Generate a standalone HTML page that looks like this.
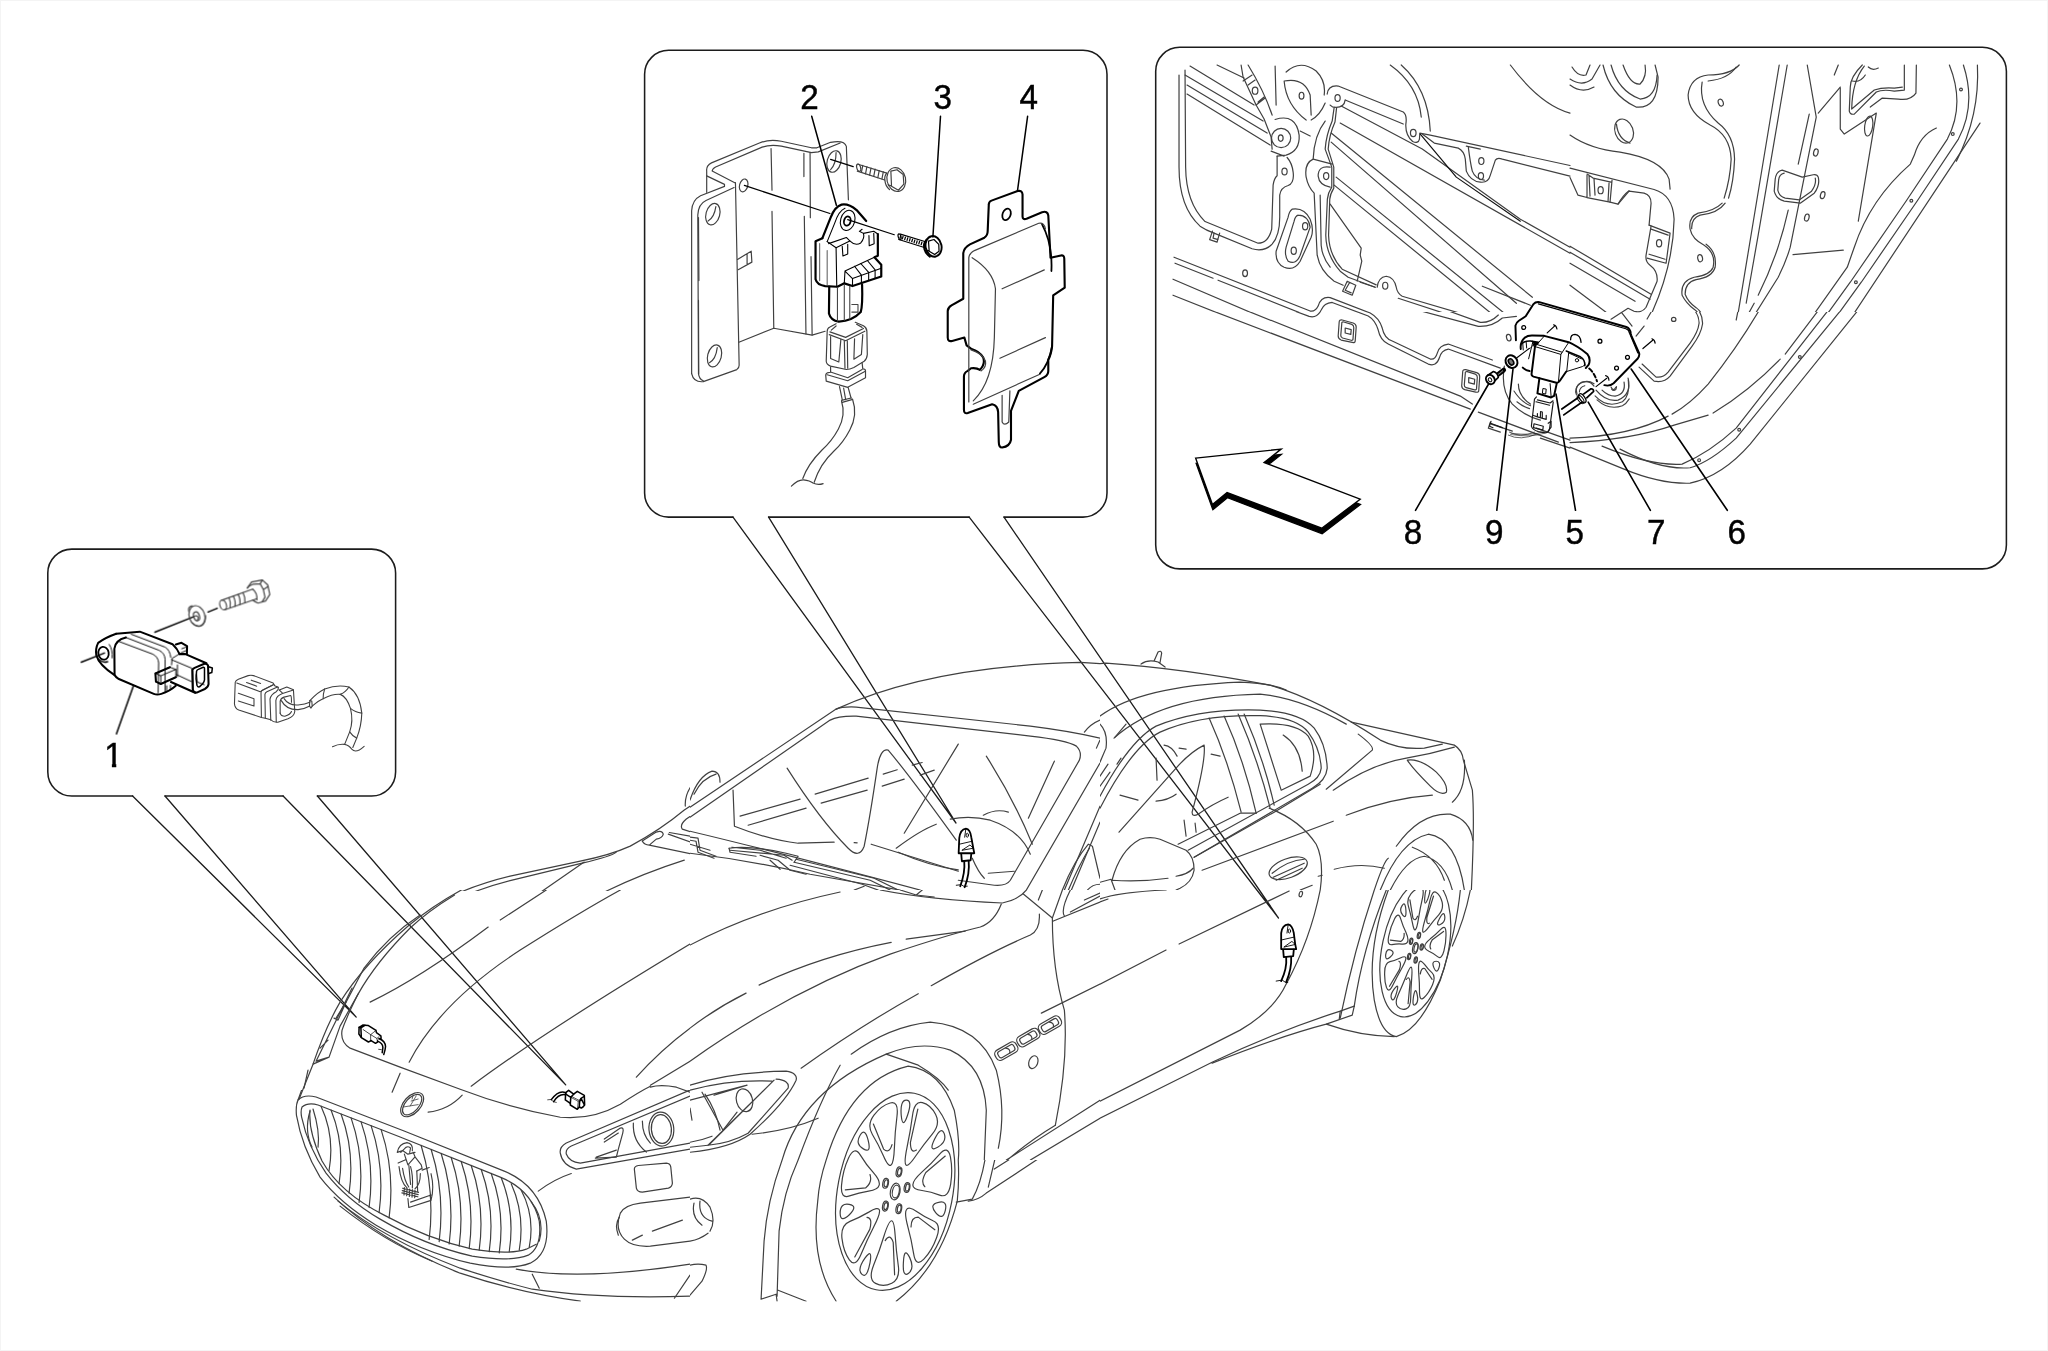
<!DOCTYPE html>
<html><head><meta charset="utf-8"><title>Diagram</title>
<style>
html,body{margin:0;padding:0;background:#fff;overflow:hidden}
svg{display:block}
.k{fill:none;stroke:#000;stroke-linecap:round;stroke-linejoin:round}
.g{fill:none;stroke:#404040;stroke-linecap:round;stroke-linejoin:round}
.c{fill:none;stroke:#404040;stroke-linecap:round;stroke-linejoin:round}
.l{fill:none;stroke:#999;stroke-linecap:round;stroke-linejoin:round}
text{font-family:"Liberation Sans",sans-serif;fill:#000}
</style></head><body>
<svg width="2048" height="1351" viewBox="0 0 2048 1351">
<rect width="2048" height="1351" fill="#fff"/>
<!-- callout frames and tails -->
<rect x="0.5" y="0.5" width="2047" height="1350" fill="none" stroke="#f4f4f4"/>
<g class="k" stroke-width="1.55" style="stroke:#1c1c1c">
<!-- box 1 -->
<path d="M132.6 796 H71.8 A24 24 0 0 1 47.8 772 V573.1 A24 24 0 0 1 71.8 549.1 H371.6 A24 24 0 0 1 395.6 573.1 V772 A24 24 0 0 1 371.6 796 H317.4"/>
<path d="M165 796 H283.1"/>
<!-- box 2 -->
<path d="M733 517.1 H668.6 A24 24 0 0 1 644.6 493.1 V74.3 A24 24 0 0 1 668.6 50.3 H1083 A24 24 0 0 1 1107 74.3 V493.1 A24 24 0 0 1 1083 517.1 H1004"/>
<path d="M768.6 517.1 H969.2"/>
<!-- box 3 -->
<rect x="1155.7" y="47.3" width="850.7" height="521.6" rx="24" ry="24"/>
</g>
<g class="k" stroke-width="1.3" style="stroke:#1c1c1c">
<path d="M132.6 796 L356.2 1017.1 L165 796"/>
<path d="M283.1 796 L565.7 1084.9 L317.4 796"/>
<path d="M733 517.1 L956 823 L768.6 517.1"/>
<path d="M969.2 517.1 L1278.5 918 L1004 517.1"/>
</g>
<clipPath id="one"><path d="M-20 -40 H20 V-3.6 H2.9 V2 H-1.7 V-3.6 H-20 Z"/></clipPath>
<g font-size="35" opacity="0.999" text-anchor="middle">
<text transform="translate(113.5,766.7) scale(0.95,1)" stroke="#000" stroke-width="0.45" clip-path="url(#one)">1</text>
<text transform="translate(809.4,108.8) scale(0.95,1)" stroke="#000" stroke-width="0.45">2</text>
<text transform="translate(942.7,108.8) scale(0.95,1)" stroke="#000" stroke-width="0.45">3</text>
<text transform="translate(1028.8,108.8) scale(0.95,1)" stroke="#000" stroke-width="0.45">4</text>
<text transform="translate(1413.0,543.6) scale(0.95,1)" stroke="#000" stroke-width="0.45">8</text>
<text transform="translate(1494.2,543.6) scale(0.95,1)" stroke="#000" stroke-width="0.45">9</text>
<text transform="translate(1574.8,543.6) scale(0.95,1)" stroke="#000" stroke-width="0.45">5</text>
<text transform="translate(1656.2,543.6) scale(0.95,1)" stroke="#000" stroke-width="0.45">7</text>
<text transform="translate(1736.7,543.6) scale(0.95,1)" stroke="#000" stroke-width="0.45">6</text>
</g>

<!-- box1: sensor 1, washer, bolt (zoom 9.309 of [70,580,290,725]) -->
<g transform="translate(70,580) scale(0.107422)">
<g class="k" stroke-width="19">
<path d="M430 500 L650 481 L955 598 Q1000 640 1020 690"/>
<path d="M430 500 Q330 535 262 585 Q235 640 245 700 Q270 790 415 885"/>
<path d="M520 535 Q420 560 413 640 L415 885 Q425 905 455 922 L780 1060 Q810 1072 850 1060 Q930 1035 985 985"/>
<path d="M800 946 L795 870 L930 812 M800 946 L845 968 L985 905"/>
<path d="M985 600 L1038 585 L1090 615 L1088 690"/>
<path d="M1020 690 L1075 690 L1270 775"/>
<path d="M940 950 L1165 1050"/>
<path d="M1140 835 Q1145 825 1160 818 L1245 782 Q1270 775 1285 795 L1290 970 Q1285 1000 1255 1015 L1180 1048 Q1150 1052 1143 1020 Z"/>
<path d="M1178 850 Q1180 838 1195 832 L1240 812 Q1252 810 1252 825 L1252 930 Q1250 950 1235 965 L1205 995 Q1190 1000 1182 980 Q1168 920 1178 850 Z" stroke-width="14"/>
<path d="M1290 808 L1325 820 L1320 862 L1292 870" stroke-width="14"/>
<ellipse cx="312" cy="682" rx="48" ry="60" stroke-width="17" transform="rotate(-10 312 682)"/>
<path d="M270 740 Q300 775 350 760" stroke-width="14"/>
</g>
<g class="k" stroke-width="9">
<path d="M455 572 L770 690 Q820 715 825 770 L820 1050"/>
<path d="M520 535 L830 655 Q880 680 885 735 L885 1035"/>
<path d="M570 505 L885 625 Q930 650 938 720"/>
<path d="M795 870 L845 892 L845 968 M845 892 L985 832"/>
<path d="M930 812 L985 832 L985 905"/>
<path d="M945 742 L1135 822 L1145 1030"/>
<path d="M1000 790 L1000 900 M990 880 L1130 945"/>
<path d="M1015 690 L950 730 L945 790"/>
<path d="M1040 640 L1080 625 M1030 680 L1085 655"/>
<path d="M1185 950 L1250 975 M1185 950 L1175 880"/>
<path d="M935 980 L935 1010 M900 985 L900 1030"/>
<path d="M365 600 Q400 650 392 725"/>
</g>
<g class="k" stroke-width="14">
<path d="M105 765 L320 680"/>
<path d="M790 485 L1155 340"/>
<path d="M1285 298 L1370 263"/>
<path d="M590 985 L432 1432"/>
</g>
<g class="g" stroke-width="11">
<ellipse cx="1182" cy="335" rx="72" ry="98" transform="rotate(-18 1182 335)"/>
<path d="M1108 300 Q1090 250 1135 240 M1140 400 Q1180 445 1230 420 Q1265 390 1262 330"/>
<ellipse cx="1178" cy="338" rx="27" ry="42" transform="rotate(-18 1178 338)"/>
<path d="M1165 335 Q1185 330 1195 350 L1185 375"/>
<ellipse cx="1425" cy="232" rx="30" ry="47" transform="rotate(-18 1425 232)"/>
<path d="M1412 188 L1700 85 M1440 278 L1735 175"/>
<path d="M1480 165 Q1500 210 1490 255 M1520 150 Q1545 200 1535 245 M1565 135 Q1590 180 1580 230 M1610 118 Q1635 165 1628 212"/>
<path d="M1700 85 Q1745 120 1740 185"/>
<path d="M1650 75 L1690 18 L1790 0 L1840 45 L1860 135 L1820 195 L1750 215 Q1715 200 1700 185"/>
<path d="M1650 75 Q1660 55 1700 40 L1770 35 L1800 90 L1815 160 L1790 200 M1800 90 L1845 60 M1770 35 L1790 0"/>
</g>
</g>
<!-- plug + harness (zoom 12.8 of [220,660,380,765]) -->
<g transform="translate(220,660) scale(0.078125)">
<g class="g" stroke-width="14">
<path d="M745 350 L700 330 L680 295 L430 200 Q395 190 360 200 L235 245 Q200 260 195 285 L185 560 Q190 620 240 640 L530 735 L580 745 L650 765 Q680 800 740 797 L870 752 Q950 722 957 660 L940 382 L855 345 L760 385"/>
<path d="M215 295 L515 405 L675 320"/>
<path d="M530 735 L525 420 Q525 395 545 385 L690 315"/>
<path d="M580 745 L575 440 Q578 415 600 405 L735 345"/>
<path d="M650 770 L640 500 Q650 440 720 405 L745 375 L745 350"/>
<path d="M720 795 L715 520 Q720 460 800 430 L940 385"/>
<path d="M760 385 L800 425"/>
<path d="M770 680 L770 530 Q775 490 820 475 L905 455 Q915 460 915 540"/>
<path d="M770 680 Q780 720 830 720 Q900 700 915 660"/>
<path d="M400 258 L520 300 M340 288 L470 335 M235 425 L435 495 L435 590 L235 525"/>
<path d="M785 520 Q850 640 1000 635 Q1090 625 1150 590"/>
<path d="M820 495 Q880 585 1000 575 Q1090 565 1150 540"/>
<path d="M1150 520 L1145 590 L1165 615 L1180 590 L1175 525 Z"/>
<path d="M1150 520 Q1250 410 1340 370 Q1500 310 1650 345 Q1790 440 1815 680 Q1810 850 1750 1000 L1700 1120"/>
<path d="M1180 590 Q1260 520 1320 495 Q1450 430 1540 440 Q1620 470 1670 620 Q1710 780 1660 920 L1595 1080"/>
<path d="M1340 370 Q1320 430 1320 495 M1650 345 Q1610 410 1540 440 M1670 620 Q1730 670 1815 680 M1660 920 Q1700 980 1750 1000"/>
<path d="M1440 1110 Q1520 1070 1595 1080 Q1650 1090 1690 1145 Q1740 1200 1845 1105"/>
</g>
</g>

<!-- box2 left: bracket + sensor 2 (zoom 7.304 of [680,130]) -->
<g transform="translate(680,130) scale(0.136913)">
<g class="g" stroke-width="8.6">
<path d="M195 455 L195 300 Q190 260 230 240 L580 95 Q650 65 740 82 L960 130 L1000 130 L1100 90 Q1200 70 1215 120 L1230 510"/>
<path d="M400 385 L235 300 Q235 285 260 270 L600 125 Q660 105 740 118 L960 165 L1010 160 L1170 95"/>
<path d="M195 335 L325 397 L325 412"/>
<path d="M85 1779 L85 590 Q90 510 150 480 L325 412"/>
<path d="M135 1779 L130 620 Q135 540 190 515 L395 420"/>
<path d="M405 385 L432 1719 Q432 1740 415 1750 L170 1838 Q100 1845 85 1779"/>
<path d="M135 1779 Q140 1820 170 1832"/>
<ellipse cx="240" cy="615" rx="50" ry="80" transform="rotate(15 240 615)"/>
<path d="M205 665 Q250 640 262 560"/>
<ellipse cx="252" cy="1650" rx="50" ry="82" transform="rotate(15 252 1650)"/>
<path d="M215 1700 Q262 1675 272 1590"/>
<ellipse cx="465" cy="405" rx="30" ry="48" transform="rotate(15 465 405)"/>
<ellipse cx="1125" cy="230" rx="50" ry="80" transform="rotate(15 1125 230)"/>
<path d="M1100 290 Q1140 250 1140 165"/>
<path d="M665 135 L672 440 M672 595 L685 1448 M905 170 L905 340 M908 630 L920 1490 M950 165 L952 640 M957 925 L965 1497"/>
<path d="M135 640 L138 1100 M135 1245 L137 1779"/>
<path d="M430 1550 L685 1448 L965 1498 L1060 1470"/>
<path d="M420 945 L520 885 L525 965 L425 1020 M490 905 L490 985"/>
<!-- upper bolt -->
<path d="M1300 250 L1510 315 M1295 300 L1495 365"/>
<ellipse cx="1305" cy="275" rx="14" ry="27" transform="rotate(-15 1305 275)"/>
<path d="M1335 258 L1325 310 M1365 268 L1355 320 M1395 278 L1385 330 M1425 286 L1415 338 M1455 296 L1445 348 M1485 305 L1475 357"/>
<ellipse cx="1580" cy="362" rx="68" ry="88" transform="rotate(-12 1580 362)"/>
<path d="M1510 315 Q1490 340 1497 370 Q1500 410 1530 435"/>
<path d="M1540 300 L1585 290 L1630 325 L1635 395 L1595 440 L1545 410 Z M1545 410 L1520 400"/>
</g>
<g class="k" stroke-width="9">
<path d="M1100 215 L1265 268"/>
<path d="M470 405 L1095 610"/>
<path d="M1225 655 L1565 765"/>
</g>
<!-- sensor 2 -->
<g class="k" stroke-width="16">
<path d="M1040 790 L1100 640 Q1130 560 1180 545 Q1230 535 1290 585 L1360 665"/>
<path d="M1040 790 L990 812 L990 1090 Q1000 1130 1060 1140 L1150 1145 L1200 1120 L1260 1140 L1470 1070 L1470 985 L1420 930 L1445 918 L1445 760"/>
<path d="M1090 1145 L1088 1340 Q1100 1390 1160 1400 Q1260 1395 1320 1330 Q1335 1280 1330 1130"/>
<ellipse cx="1222" cy="665" rx="24" ry="34" transform="rotate(15 1222 665)" stroke-width="13"/>
</g>
<g class="k" stroke-width="8">
<ellipse cx="1225" cy="660" rx="52" ry="75" transform="rotate(15 1225 660)"/>
<path d="M1075 815 L1130 680 Q1160 590 1205 572"/>
<path d="M1075 815 L1140 860 L1240 810 L1215 785 L1085 830"/>
<path d="M1240 810 Q1280 850 1320 825 Q1350 790 1340 755 L1310 740 L1330 725"/>
<path d="M1340 755 L1415 740 L1445 760"/>
<path d="M1140 860 L1145 1145"/>
<path d="M1185 850 L1190 920 L1225 905 L1225 835"/>
<path d="M1380 770 L1382 845 L1418 830 L1415 755"/>
<path d="M1205 1030 L1420 930 M1205 1030 L1260 1085 L1470 1010 M1260 1085 L1260 1140 M1205 1030 L1200 1120"/>
<path d="M1275 995 L1325 1060 L1325 1115 M1320 975 L1378 1040 L1378 1098 M1370 955 L1425 1022 L1425 1082"/>
<path d="M1020 830 L1020 1100 M1075 880 L1075 1130" stroke="#666"/>
<path d="M1200 1130 L1200 1390 M1240 1140 L1240 1380 M1150 1150 L1150 1395" stroke="#444"/>
<path d="M1255 1275 L1300 1275 L1300 1330 L1255 1330" stroke="#444"/>
</g>
<!-- lower connector (gray); y offset 949.5 -->
<g class="g" stroke-width="8.6" transform="translate(0,949.5)">
<path d="M1140 465 L1095 490 Q1075 500 1075 520 L1068 740 Q1070 765 1100 775 L1215 800 Q1240 800 1270 785 L1345 740 Q1365 725 1368 690 L1365 520 Q1365 495 1340 480 L1280 455"/>
<path d="M1095 525 L1210 565 L1340 500 M1105 512 L1140 482 M1290 470 L1330 492"/>
<path d="M1090 545 L1210 590 L1350 520"/>
<path d="M1100 560 L1100 720 L1160 745 L1175 580 M1275 575 L1270 725 L1325 690 L1335 545"/>
<path d="M1200 590 L1205 790 M1222 590 L1225 790"/>
<path d="M1100 780 L1100 820 L1075 825 Q1062 830 1065 850 L1068 885 L1225 930 L1355 860 L1355 810 Q1355 795 1335 795 L1330 750"/>
<path d="M1075 838 L1225 882 L1350 815 M1105 820 L1225 860 L1330 800"/>
<path d="M1165 925 L1185 1020 M1195 935 L1210 1020 M1228 930 L1250 1010"/>
<path d="M1180 1025 L1250 1008 M1185 1040 L1255 1020"/>
</g>
</g>
<!-- cable in global coords -->
<g class="g" stroke-width="1.2">
<path d="M841.5 401 Q846 415 838.4 429 Q832 441 822 450 Q808 464 802.8 478.5"/>
<path d="M852.5 399 Q858 415 849.8 430 Q843 443 834 451 Q820 464 814.2 482.3"/>
<path d="M791.4 486.1 Q798 479.5 803.5 479.8 Q810 480.5 813 483 Q818 485.5 823.1 483.6"/>
</g>
<!-- small bolt 3 (zoom 7.304 of [680,130]) -->
<g transform="translate(680,130) scale(0.136913)">
<g class="k" stroke-width="9">
<path d="M1610 760 L1800 818 M1598 800 L1785 858"/>
<path d="M1605 780 L1795 838" stroke-width="26" stroke="#000" stroke-dasharray="9 9" stroke-linecap="butt"/>
<ellipse cx="1604" cy="780" rx="10" ry="22" transform="rotate(-15 1604 780)"/>
<ellipse cx="1852" cy="850" rx="58" ry="76" transform="rotate(-12 1852 850)" stroke-width="14"/>
<path d="M1800 800 Q1775 830 1785 870 Q1795 905 1825 925" stroke-width="14"/>
<path d="M1815 812 L1855 800 L1890 835 L1892 885 L1860 910 L1820 885 Z M1820 885 L1800 878"/>
</g>
</g>
<!-- cover 4 (zoom 4.5045 of [900,160]) -->
<g transform="translate(900,160) scale(0.222)">
<path class="k" stroke-width="9.5" d="M400 200 Q400 188 412 183 L530 140 Q550 135 552 155 L552 255 Q552 270 570 265 L640 235 Q665 228 668 250 L678 440 L725 430 Q740 428 740 445 L742 575 L690 610 L685 840 Q680 880 668 900 L668 950 Q668 968 650 978 L535 1040 L500 1130 L500 1260 Q495 1290 460 1295 Q445 1295 445 1270 L442 1135 Q440 1105 415 1100 L305 1140 Q288 1145 288 1125 L288 975 Q288 958 305 950 L320 938 Q345 935 360 945 Q385 920 375 890 Q360 862 320 850 L300 835 L290 800 L235 815 Q215 820 215 800 L215 680 Q215 665 232 655 L285 625 L285 420 Q288 395 315 380 L380 350 Q395 340 395 320 Z"/>
<ellipse class="k" stroke-width="8" cx="480" cy="245" rx="18" ry="27" transform="rotate(20 480 245)"/>
<g class="k" stroke-width="8">
<path d="M640 290 Q688 380 682 500 M685 840 Q670 920 630 962"/>
</g>
<g class="g" stroke-width="5.4">
<path d="M310 1090 L310 440 Q312 420 335 408 L625 285 Q650 280 655 310"/>
<path d="M330 1100 L630 965"/>
<path d="M325 440 Q420 500 430 580 L425 800 Q420 1000 330 1085"/>
<path d="M460 580 L650 495 M450 893 L655 800"/>
<path d="M460 1060 L460 1180 Q470 1200 490 1180 L495 1040"/>
<path d="M320 855 Q370 870 385 905 Q390 935 365 950"/>
</g>
</g>
<!-- leaders -->
<g class="k" stroke-width="1.5">
<path d="M811.7 116.3 L836.4 205.2"/>
<path d="M940.5 116.3 L932.9 237"/>
<path d="M1027.6 116.3 L1017.4 191.3"/>
</g>

<!-- box3 clip -->
<clipPath id="c3"><rect x="1170" y="64" width="822" height="495"/></clipPath>
<clipPath id="c3a"><rect x="1170" y="64" width="822" height="248"/></clipPath>
<clipPath id="c3b"><rect x="1170" y="312" width="822" height="247"/></clipPath>
<g clip-path="url(#c3)">
<!-- B1 zoom 4.995 of [1160,55] -->
<g clip-path="url(#c3a)"><g transform="translate(1160,55) scale(0.2002)" class="g" stroke-width="6">
<path d="M95 100 L95 560 Q95 760 200 855 Q230 875 270 890 L460 968 Q520 985 560 945 Q600 900 598 800 L598 700 Q603 662 640 652 Q672 640 665 585 Q660 540 635 512"/>
<path d="M125 75 L128 560 Q130 740 225 832 L490 940 Q540 940 558 870 L565 650 Q570 615 585 603 L585 505"/>
<path d="M262 880 L248 922 L285 935 L298 890 M270 890 L265 915 L290 922"/>
<ellipse cx="622" cy="582" rx="13" ry="17"/>
<path d="M150 55 L470 250 M125 100 L515 330 M135 150 L535 390 M135 195 L550 450 M285 50 L420 115"/>
<path d="M405 50 L415 110 L480 250 L520 320 L555 410 L560 470"/>
<path d="M440 50 Q520 180 560 300"/>
<path d="M415 130 L460 100 M480 250 L525 215 M440 150 L475 125 M490 235 L520 210"/>
<ellipse cx="475" cy="178" rx="14" ry="18"/>
<circle cx="605" cy="415" r="48"/>
<path d="M575 322 Q680 290 695 400 Q700 480 630 500 L585 505 M555 480 L620 505"/>
<ellipse cx="603" cy="415" rx="12" ry="16"/>
<path d="M575 55 L580 250"/>
<path d="M630 85 Q700 20 780 80 Q830 130 820 200"/>
<path d="M620 130 Q720 110 750 200 L755 300 M620 130 Q630 250 730 325 M700 380 L750 405 M755 325 Q800 300 825 240"/>
<ellipse cx="707" cy="203" rx="12" ry="17"/>
<path d="M835 195 Q840 150 890 155 L1215 285 Q1235 300 1228 345 Q1225 400 1262 432 Q1290 445 1296 420 L1298 390 L1350 400 L2048 552"/>
<path d="M925 225 Q920 260 880 262 Q860 262 850 250"/>
<path d="M870 262 L860 330 Q830 400 825 470 L858 560 L858 660 Q838 690 836 720 L828 900 Q830 1000 900 1080 L940 1110 L1075 1160"/>
<path d="M882 264 L874 335 Q845 400 840 470 L868 560 L868 665 Q850 695 848 720 L842 900 Q845 1000 910 1070 L1080 1148"/>
<path d="M825 330 Q770 400 765 520 Q720 540 730 610 Q740 660 770 690 L785 1000 Q800 1080 870 1130 L915 1150"/>
<path d="M800 700 L805 950 Q810 1010 850 1060"/>
<path d="M850 560 Q790 550 790 605 Q795 650 850 660 M765 520 L860 545"/>
<ellipse cx="830" cy="605" rx="13" ry="17"/>
<ellipse cx="887" cy="215" rx="13" ry="17"/>
<path d="M925 225 L1215 345"/>
<path d="M905 255 L1310 470 L1800 820 L2048 960"/>
<path d="M1300 395 L1480 610 L1800 830" stroke="#111"/>
<path d="M900 340 L2048 990"/>
<path d="M855 390 L1860 1210 M855 435 L1780 1240"/>
<path d="M880 610 L1720 1290 M870 650 L1690 1320"/>
<path d="M1610 1155 L1850 1250"/>
<ellipse cx="1265" cy="390" rx="14" ry="18"/>
<path d="M1310 395 L1370 440 L1490 465 Q1520 480 1525 520 L1530 580 Q1550 630 1600 635 Q1640 640 1650 600 L1675 525 Q1685 510 1710 520 L2048 605"/>
<path d="M1540 460 Q1550 540 1560 580 Q1575 620 1620 625 M1530 455 L1600 470"/>
<ellipse cx="1605" cy="530" rx="13" ry="17"/>
<ellipse cx="1603" cy="605" rx="13" ry="17"/>
<path d="M1150 50 Q1290 150 1305 310 M1205 50 Q1340 170 1350 380"/>
<path d="M1750 50 Q1900 250 2048 290"/>
<path d="M70 1010 L750 1279 Q775 1284 790 1254 Q805 1205 850 1212 L1050 1289 L1090 1349"/>
<path d="M75 1040 L265 1115 M290 1125 L745 1306 Q785 1316 805 1274 Q820 1239 860 1236 L1040 1304 L1065 1349"/>
<path d="M65 1120 L600 1349 M65 1200 L440 1349"/>
<ellipse cx="425" cy="1090" rx="12" ry="17"/>
<path d="M660 770 Q720 760 750 820 Q770 870 755 910 L700 1030 Q670 1080 620 1060 Q575 1040 580 980 L640 810 Q645 780 660 770"/>
<path d="M690 800 Q740 800 750 860 L700 1000 Q680 1050 640 1030 Q620 1000 630 960 L670 830 Q675 805 690 800"/>
<ellipse cx="725" cy="855" rx="13" ry="18"/>
<ellipse cx="668" cy="978" rx="13" ry="18"/>
<path d="M850 745 L1005 965 L1000 1000 L1008 1030 L985 1130"/>
<path d="M935 1130 L912 1180 L960 1200 L978 1150 Z M945 1140 L925 1175 L955 1188"/>
<path d="M1085 1160 Q1090 1110 1130 1105 Q1170 1110 1180 1160 Q1185 1190 1210 1205 L1700 1349"/>
<path d="M1075 1160 L1000 1135 M1190 1215 L1600 1349"/>
<ellipse cx="1125" cy="1152" rx="13" ry="17"/>
<path d="M1640 1349 Q1700 1290 1790 1300"/>
</g></g>

<!-- B2 zoom of [1570,55] -->
<g clip-path="url(#c3a)"><g transform="translate(1570,55) scale(0.2002)" class="g" stroke-width="6">
<path d="M10 60 Q40 110 80 100 L100 50 M0 120 Q60 160 110 120 L150 50 M0 150 Q60 195 120 160"/>
<path d="M165 50 Q200 200 330 260 Q440 270 440 110 L425 50"/>
<path d="M205 50 Q240 180 350 220 Q430 215 435 100"/>
<path d="M265 50 Q300 150 350 145 Q385 110 375 50"/>
<ellipse cx="270" cy="380" rx="45" ry="62" transform="rotate(-20 270 380)"/>
<path d="M232 345 Q240 420 300 440"/>
<path d="M0 400 Q100 470 250 485 Q460 520 495 620 L500 670"/>
<path d="M0 565 L420 672 Q515 700 520 820 Q515 1080 380 1349"/>
<path d="M0 612 L40 700 L85 712 L85 600 M85 712 L200 735 L240 745 L295 680 L370 690 Q405 700 405 740 L395 850"/>
<path d="M95 600 L100 705 M200 735 L210 625 M115 615 L205 635 M115 615 L85 595 M120 620 L125 700 M190 730 L195 640"/>
<ellipse cx="153" cy="675" rx="13" ry="18"/>
<path d="M240 745 Q265 700 295 678"/>
<path d="M395 850 L500 890 L480 1040 L385 1015 M405 870 L490 900 M395 995 L475 1020"/>
<path d="M405 855 L380 1000 Q375 1030 400 1050 Q440 1080 435 1130 L380 1260 Q360 1290 320 1280 L290 1265 L205 1320"/>
<ellipse cx="445" cy="940" rx="13" ry="18"/>
<path d="M260 1290 L300 1349"/>
<path d="M0 955 L405 1195 M0 985 L400 1220 M0 1040 L325 1230 M0 1150 L200 1300"/>
<path d="M845 50 Q800 100 690 100 Q600 110 590 200 Q590 290 700 350 Q800 400 805 520 Q800 620 770 715"/>
<path d="M760 740 Q720 780 640 790 Q590 810 600 870 Q610 920 670 950 Q730 990 715 1060 Q700 1100 620 1110 Q550 1130 560 1200 Q580 1240 620 1270 Q660 1300 660 1349"/>
<path d="M830 60 Q790 120 690 130 M660 135 Q640 250 740 340 Q820 400 822 520 Q818 630 792 715"/>
<path d="M775 740 Q740 790 650 800 Q605 815 608 868 M680 945 Q735 985 725 1060 Q710 1110 630 1122 Q575 1135 575 1195 Q590 1235 630 1262 Q672 1295 672 1349"/>
<ellipse cx="753" cy="238" rx="12" ry="18" transform="rotate(-20 753 238)"/>
<ellipse cx="650" cy="1015" rx="12" ry="18" transform="rotate(-10 650 1015)"/>
<ellipse cx="517" cy="1322" rx="11" ry="9"/>
<path d="M1045 50 L830 1349"/>
<path d="M1085 50 L940 900 L880 1240"/>
<path d="M1185 50 L1230 310 L1100 960 Q1080 1030 1040 1110 L890 1349"/>
<path d="M1195 295 L1140 545 M1090 775 Q1040 1000 940 1200 M920 1240 L860 1349"/>
<path d="M1060 575 Q1030 580 1025 620 L1020 680 Q1030 720 1070 730 L1150 740 L1220 690 Q1250 650 1240 610 Q1235 595 1215 598 L1160 610 Z"/>
<path d="M1070 590 Q1045 595 1042 625 L1038 675 Q1045 708 1075 715 L1145 724 L1205 682 Q1232 648 1225 615"/>
<ellipse cx="1228" cy="487" rx="11" ry="18" transform="rotate(15 1228 487)"/>
<ellipse cx="1262" cy="700" rx="11" ry="18" transform="rotate(15 1262 700)"/>
<ellipse cx="1183" cy="812" rx="11" ry="18" transform="rotate(15 1183 812)"/>
<path d="M1350 160 L1240 290"/>
<path d="M1350 165 L1350 370 L1370 395 L1530 290 L1440 830"/>
<ellipse cx="1492" cy="355" rx="20" ry="50" transform="rotate(8 1492 355)"/>
<path d="M1460 50 Q1400 110 1400 160 L1395 280 Q1400 300 1420 295 L1530 185 Q1560 170 1620 180 L1670 175 L1670 50"/>
<path d="M1470 55 Q1410 130 1407 270 L1520 175 Q1560 160 1620 165 L1660 160"/>
<path d="M1730 50 L1728 190 Q1700 230 1640 220 L1560 215 L1500 260"/>
<path d="M1410 130 Q1450 140 1475 100 M1490 60 Q1510 80 1540 65 M1340 50 L1320 100"/>
<path d="M1895 50 Q1975 250 1885 420 L1680 728 L1400 1135 L1245 1349"/>
<path d="M1965 50 Q2030 250 1940 420 L1735 728 L1455 1135 L1300 1349"/>
<path d="M2035 50 Q2048 300 1930 530"/>
<path d="M2048 340 L1380 1349"/>
<path d="M1830 365 Q1750 400 1720 500 L1700 545 Q1500 720 1420 960 L1385 1060 L1180 1349"/>
<path d="M1114 997 L1365 975"/>
<circle cx="1953" cy="172" r="7"/><circle cx="1912" cy="395" r="7"/><circle cx="1705" cy="728" r="7"/><circle cx="1428" cy="1135" r="7"/>
</g></g>

<!-- B3 zoom of [1160,300] -->
<g clip-path="url(#c3b)"><g transform="translate(1160,300) scale(0.2002)" class="g" stroke-width="6">
<path d="M120 0 L1550 545 M1590 560 L1990 710"/>
<path d="M300 0 L1500 480 L1560 520"/>
<path d="M525 0 L745 82 Q785 92 805 50 Q820 15 860 12 L1040 80 Q1075 100 1090 150 Q1100 200 1140 220 L1340 320 Q1380 335 1395 290 Q1405 250 1440 245 L1700 340"/>
<path d="M600 0 L750 55 Q775 60 790 30 L800 0 M880 0 L1050 65 Q1095 90 1110 140 Q1120 190 1160 205 L1350 295 Q1375 300 1385 265 Q1395 225 1440 220 L1660 300"/>
<path d="M895 110 Q895 98 910 100 L965 115 Q980 120 980 135 L975 205 Q975 215 960 212 L905 200 Q890 195 890 180 Z"/>
<path d="M908 118 Q906 108 918 110 L958 122 Q968 126 968 138 L964 196 Q962 204 950 200 L912 190 Q902 186 903 176 Z"/>
<path d="M925 140 L955 148 L953 172 L925 165 Z"/>
<g transform="translate(617,248)">
<path d="M895 110 Q895 98 910 100 L965 115 Q980 120 980 135 L975 205 Q975 215 960 212 L905 200 Q890 195 890 180 Z"/>
<path d="M908 118 Q906 108 918 110 L958 122 Q968 126 968 138 L964 196 Q962 204 950 200 L912 190 Q902 186 903 176 Z"/>
<path d="M925 140 L955 148 L953 172 L925 165 Z"/>
</g>
<path d="M1100 0 L1590 132 Q1660 135 1710 90 L1780 82"/>
<path d="M1290 0 L1600 112 Q1650 115 1690 75"/>
<ellipse cx="1742" cy="188" rx="11" ry="17" transform="rotate(-15 1742 188)"/>
<path d="M1720 330 Q1700 450 1760 520 Q1820 580 1900 600"/>
<path d="M1790 420 Q1790 480 1850 520"/>
<path d="M1650 610 L1640 640 L1700 660 M1655 620 L1760 655"/>
<path d="M1745 660 Q1800 690 1870 660 M1740 675 Q1800 705 1880 670" stroke-width="4"/>
<path d="M1900 690 L2048 740 M1880 640 L2048 700"/>
</g></g>
<!-- arrow -->
<g transform="translate(1160,300) scale(0.2002)">
<path d="M180 816 L607 771 L522 838 L1002 1021 L810 1168 L337 988 L264 1048 Z" fill="#000" stroke="#000" stroke-width="6" stroke-linejoin="miter"/>
<path d="M178 790 L605 745 L520 812 L1000 995 L808 1140 L335 962 L262 1022 Z" fill="#fff" stroke="#000" stroke-width="7" stroke-linejoin="miter"/>
</g>

<!-- B4 zoom of [1570,300] -->
<g clip-path="url(#c3b)"><g transform="translate(1570,300) scale(0.2002)" class="g" stroke-width="6">
<path d="M1280 0 L1075 270 M1050 295 Q900 450 715 565 M690 575 L520 625 Q300 700 0 712"/>
<path d="M1330 0 L830 640 Q700 760 560 820 Q400 830 160 730"/>
<path d="M1395 0 L830 690 Q700 810 600 838 Q450 850 250 745"/>
<path d="M1480 0 L900 720 Q760 880 600 915 Q450 920 270 845 L0 735"/>
<path d="M975 0 Q850 220 690 420 Q600 520 510 570 M490 580 Q300 680 0 690"/>
<path d="M920 0 L880 55 M850 0 L830 100"/>
<path d="M590 5 Q665 50 662 120 Q655 170 610 230 L500 380 Q470 415 420 405 L345 335"/>
<path d="M575 10 Q645 55 645 115 Q640 160 600 215 L490 360 Q465 390 430 385 L360 320"/>
<ellipse cx="518" cy="97" rx="11" ry="10"/>
<path d="M440 0 L385 95 M370 130 L330 180"/>
<path d="M205 96 L290 41 L320 56 Q360 66 380 36 L395 0 M260 66 L310 130"/>
<circle cx="1148" cy="285" r="7"/><circle cx="845" cy="648" r="7"/><circle cx="645" cy="800" r="7"/>
<path d="M290 390 Q310 470 240 500 Q180 510 130 450"/>
<path d="M270 410 Q280 470 225 480 Q190 480 160 450"/>
<path d="M35 470 Q20 430 60 410 Q100 400 120 430"/>
<path d="M205 435 Q215 460 230 435"/>
</g></g>
</g>

<!-- bracket 6 + sensor 5 etc: zoom 10.235 of [1470,265] -->
<g transform="translate(1470,265) scale(0.0977)">
<!-- bracket fill to hide background -->
<path d="M470 770 L465 620 Q470 590 500 570 L570 525 L650 400 Q670 375 710 380 L1600 635 Q1640 650 1645 700 L1650 720 L1730 900 Q1740 930 1715 960 L1470 1210 Q1430 1245 1375 1230 L1100 1100 L600 1100 Z" fill="#fff" stroke="none"/>
<g class="k" stroke-width="20">
<path d="M470 770 L465 620 Q470 590 500 570 L570 525 L650 400 Q670 375 710 380 L1600 635 Q1640 650 1645 700 L1650 720 L1730 900 Q1740 930 1715 960 L1470 1210 Q1430 1245 1375 1230"/>
<path d="M1220 1060 Q1270 1100 1300 1190" stroke-dasharray="45 25"/>
<path d="M540 1050 Q570 1080 610 1085" />
</g>
<g class="k" stroke-width="12">
<path d="M700 398 L1595 652 Q1628 662 1633 700 L1718 900"/>
<path d="M790 695 L865 625 M855 612 Q885 618 890 655"/>
<path d="M1770 855 L1870 770 M1862 755 Q1892 765 1895 800"/>
<path d="M1290 1245 L1400 1160 M1388 1132 Q1420 1140 1422 1180"/>
<path d="M480 949 L640 829"/>
</g>
<g class="k" stroke-width="13">
<circle cx="550" cy="640" r="20"/><circle cx="1330" cy="780" r="20"/><circle cx="1612" cy="945" r="20"/><circle cx="1500" cy="1055" r="20"/>
<path d="M1030 765 Q1028 712 1075 710 Q1130 715 1137 792"/>
</g>
<!-- sensor 5 -->
<path d="M520 860 Q510 790 560 745 Q590 720 640 722 L760 725 L1010 790 Q1100 830 1200 910 Q1240 960 1215 1020 L1180 1060 L990 1095 L905 1205 L885 1210 L860 1345 L830 1356 L690 1314 L710 1160 L630 1125 L660 840 Z" fill="#fff" stroke="none"/>
<g class="k" stroke-width="20">
<path d="M520 860 Q510 790 560 745 Q590 720 640 722 L760 725 L1010 790 Q1100 830 1200 910 Q1240 960 1215 1020 L1185 1055"/>
<path d="M665 835 L630 1115 Q628 1135 650 1142 L885 1205 Q905 1208 920 1185 L985 1090"/>
<path d="M710 1160 L690 1314 L830 1356 L860 1340 L888 1212"/>
<path d="M985 880 L1130 940 Q1180 970 1175 1030" stroke-width="16"/>
<path d="M530 805 Q560 775 620 778 L700 792" stroke-width="16"/>
</g>
<g class="k" stroke-width="10">
<path d="M665 835 L930 915 L905 1200 M930 915 L1005 800 M690 815 L940 892 M665 835 L760 728"/>
<path d="M1010 900 L990 1090 L1150 1040 L1178 1022 M1010 900 L1140 960"/>
<circle cx="1095" cy="975" r="17"/>
<path d="M820 1215 L830 1345 M750 1265 L780 1270 L775 1320 L745 1315 Z"/>
<path d="M540 800 L545 870 M575 790 L580 850 M640 800 L600 960 M660 800 L640 830" />
<path d="M640 780 L700 800 L660 835 Z" fill="#000"/>
</g>
<!-- plug (gray) -->
<g class="g" style="stroke:#1a1a1a" stroke-width="12">
<path d="M660 1374 L628 1650 Q640 1690 700 1705 L770 1718 Q810 1712 815 1672 L852 1404"/>
<path d="M660 1374 L680 1350 M690 1380 L820 1412 L850 1390 M675 1400 L815 1435"/>
<path d="M650 1540 L690 1555 L690 1520 M720 1560 L722 1500 L740 1505 L740 1565 M690 1555 L780 1580 L780 1540"/>
<path d="M655 1625 L750 1650 L745 1690 L650 1665 Z"/>
<path d="M800 1620 L830 1600 L830 1660 L800 1700"/>
<path d="M760 1706 Q640 1750 420 1722 M765 1720 Q640 1770 415 1735" stroke-width="6"/>
<path d="M215 1600 L200 1650 L235 1665 M210 1620 L330 1665"/>
</g>
<!-- washer 9 -->
<g class="k">
<ellipse cx="425" cy="989" rx="58" ry="68" transform="rotate(-35 425 989)" stroke-width="20" fill="#fff"/>
<ellipse cx="420" cy="992" rx="24" ry="34" transform="rotate(-35 420 992)" stroke-width="16" fill="#777"/>
</g>
<!-- bolt 8 -->
<g class="k">
<path d="M268 1135 L345 1075" stroke-width="48" stroke="#000" stroke-linecap="round"/>
<path d="M275 1130 L340 1080" stroke-width="14" stroke="#aaa" stroke-dasharray="7 7" stroke-linecap="butt"/>
<path d="M180 1130 L240 1090 Q280 1100 290 1150 L240 1200 Z" fill="#fff" stroke-width="16"/>
<ellipse cx="208" cy="1172" rx="42" ry="50" transform="rotate(-35 208 1172)" stroke-width="20" fill="#fff"/>
<ellipse cx="205" cy="1175" rx="16" ry="22" transform="rotate(-35 205 1175)" stroke-width="10"/>
</g>
<!-- stud 7 -->
<g class="k" stroke-width="18">
<path d="M940 1474 L1120 1349 M960 1534 L1145 1404"/>
<path d="M1165 1319 L1235 1269 Q1265 1264 1265 1294 L1195 1359" fill="#fff"/>
<ellipse cx="1150" cy="1364" rx="26" ry="52" transform="rotate(-35 1150 1364)" stroke-width="13" fill="#fff"/>
<ellipse cx="1132" cy="1376" rx="24" ry="48" transform="rotate(-35 1132 1376)" stroke-width="10"/>
</g>
<!-- some gray arcs around lower hole -->
<g class="g" stroke-width="11">
<path d="M1090 1330 Q1060 1260 1130 1210 Q1200 1170 1270 1215"/>
<path d="M1120 1300 Q1120 1250 1175 1235"/>
<path d="M1280 1340 Q1400 1470 1560 1400 Q1640 1340 1620 1180"/>
<path d="M1300 1380 Q1420 1490 1560 1440 Q1600 1420 1630 1370"/>
<path d="M1450 1270 Q1470 1300 1495 1270 L1500 1245"/>
<path d="M450 1290 Q520 1400 620 1440 M480 1400 Q540 1450 610 1470"/>
</g>
</g>
<!-- leaders box3 -->
<g class="k" stroke-width="1.6">
<path d="M1415.5 510.3 L1488.6 384"/>
<path d="M1496.8 510.3 L1513 369"/>
<path d="M1575.5 510.3 L1556 394"/>
<path d="M1650.4 510.3 L1588.2 402.2"/>
<path d="M1727.3 510.3 L1631.2 369"/>
</g>

<!-- car: clip paths -->
<clipPath id="kH"><rect x="380" y="750" width="310" height="141"/></clipPath>
<clipPath id="k12"><rect x="690" y="620" width="410" height="270"/></clipPath>
<clipPath id="k13"><rect x="1100" y="620" width="410" height="270"/></clipPath>
<clipPath id="k21"><rect x="280" y="890" width="410" height="270"/></clipPath>
<clipPath id="k31"><rect x="280" y="1090" width="410" height="211.5"/></clipPath>
<clipPath id="k22"><rect x="690" y="890" width="410" height="270"/></clipPath>
<clipPath id="k32"><rect x="690" y="1160" width="410" height="141.5"/></clipPath>
<clipPath id="k23"><rect x="1100" y="890" width="410" height="270"/></clipPath>
<!-- H: zoom 4.995 of [380,750] -->
<g clip-path="url(#kH)">
<g transform="translate(380,750) scale(0.2002)" class="c" stroke-width="6">
<path d="M0 990 Q100 880 210 810 Q400 690 650 630 L1000 555 Q1150 525 1250 480 Q1400 400 1520 300 L1960 0"/>
<path d="M0 1030 Q120 880 240 820 Q420 710 660 650 L1010 565 Q1160 530 1180 510"/>
<path d="M0 1080 Q60 980 150 900"/>
<path d="M2030 0 L1530 345 Q1495 375 1510 395 L1770 480"/>
<path d="M1310 455 Q1320 475 1345 475 L1900 590 L2048 620 M1310 455 L1380 410 Q1410 400 1415 420 Q1410 440 1380 445 L1345 475"/>
<path d="M1440 420 L1580 470 M1445 412 L1575 435 L1600 460 L1590 500 L1620 510"/>
<path d="M1525 280 Q1520 200 1600 130 Q1660 90 1690 115 Q1700 140 1695 175 M1555 270 Q1560 200 1640 135"/>
<path d="M0 1230 L300 1045 M360 1005 L545 885 M600 850 L1020 560"/>
<path d="M325 1349 Q700 950 1100 720 Q1300 620 1520 550"/>
<path d="M895 1349 Q1400 1000 2048 775"/>
</g></g>

<!-- C21: zoom of [280,890] -->
<g clip-path="url(#k21)">
<g transform="translate(280,890) scale(0.2002)" class="c" stroke-width="6">
<path d="M918 -8 L906 0 Q760 80 640 180 Q420 370 300 560 Q230 680 165 870 L95 1045"/>
<path d="M872 25 Q740 105 650 190 Q480 360 390 520 Q330 640 310 700 Q300 760 350 790 L600 885 L900 995 Q1150 1090 1400 1135 Q1560 1150 1700 1070 Q1790 1010 1850 980"/>
<path d="M700 125 Q540 230 420 390 L330 560 L280 640"/>
<path d="M360 490 L180 855 L245 835 L300 680 L390 520 M245 835 L165 870 M330 560 L290 650 L270 640 M200 790 L240 750"/>
<path d="M140 900 L120 990"/>
<path d="M450 560 Q700 440 1040 185 M1100 150 L1330 0"/>
<path d="M645 860 Q800 560 1200 300 Q1500 110 1700 0"/>
<path d="M955 980 Q1300 720 2048 270"/>
<path d="M560 1010 L600 915 M740 1110 Q840 1100 910 1025"/>
<path d="M1780 935 Q1900 800 2048 690 M1850 975 L2048 855"/>
<path d="M1850 985 Q1900 970 1980 985 L2048 1010"/>
</g></g>

<!-- C31: zoom of [280,1081] -->
<g clip-path="url(#k31)">
<g transform="translate(280,1081) scale(0.2002)" class="c" stroke-width="6">
<path d="M90 95 Q120 65 180 80 L620 250 L1120 450 Q1290 520 1330 700 Q1350 860 1250 910 Q1150 950 950 910 Q700 850 480 720 Q300 610 200 480 Q110 330 82 170 Q78 120 90 95"/>
<path d="M110 130 Q140 105 190 120 L600 280 L1100 480 Q1260 545 1295 700 Q1310 830 1240 870 Q1150 905 960 875 Q720 820 500 690 Q330 590 230 460 Q140 330 108 180 Q102 150 110 130"/>
<path d="M150 145 Q140 250 210 400 Q300 560 520 670 Q740 790 960 840 Q1150 870 1230 840 L1280 815"/>
<path d="M205 126 Q275 276 245 447 M255 145 Q325 319 295 513 M305 165 Q375 353 345 560 M355 184 Q425 385 395 606 M405 204 Q475 408 445 632 M455 223 Q525 430 495 658 M505 243 Q575 453 545 684 M705 322 Q775 547 745 791 M755 342 Q825 562 795 802 M805 362 Q875 578 845 814 M855 382 Q925 594 895 825 M905 402 Q975 609 945 837 M955 422 Q1025 624 995 845 M1005 442 Q1075 637 1045 852 M1055 462 Q1125 651 1095 859 M1105 483 Q1175 658 1145 853 M1155 513 Q1225 669 1195 845 M1205 546 Q1275 678 1245 830 M1255 604 Q1325 692 1295 800"/>
<path d="M165 140 Q200 250 190 330 M150 150 Q120 250 160 330"/>
<!-- trident -->
<!-- spoiler -->
<path d="M270 580 Q500 800 900 960 Q1200 1060 1500 1100"/>
<path d="M290 600 Q520 790 900 935 Q1100 1000 1260 1040 Q1600 1090 2048 1075"/>
<path d="M300 625 Q520 800 760 900"/>
<path d="M1260 965 L1295 1035"/>
<path d="M1180 940 Q1500 1000 2048 915"/>
<path d="M2048 970 L1970 1085"/>
<!-- headlight -->
<path d="M1400 360 Q1395 330 1430 310 L2048 45 M1400 360 Q1410 420 1480 440 L2048 340"/>
<path d="M1430 365 Q1425 340 1455 325 L2048 75 M1430 365 Q1445 405 1500 410 L2048 310"/>
<path d="M1620 290 L1700 235 Q1720 230 1712 260 L1690 340 L1680 380 L1575 385 M1620 305 L1690 260 M1580 380 L1680 345"/>
<ellipse cx="1905" cy="240" rx="62" ry="85" transform="rotate(-5 1905 240)"/>
<ellipse cx="1905" cy="240" rx="50" ry="72" transform="rotate(-5 1905 240)"/>
<path d="M1765 210 Q1760 300 1830 355 M1810 200 Q1810 270 1850 310"/>
<path d="M1770 440 Q1770 425 1790 422 L1930 410 Q1950 412 1952 430 L1960 510 Q1958 530 1940 535 L1810 555 Q1785 555 1780 535 Z"/>
<path d="M1700 660 Q1720 620 1800 610 L2048 580 M1700 660 Q1670 740 1720 790 Q1760 830 1850 825 L2048 800"/>
<path d="M1690 770 Q1670 720 1695 680 M1760 795 L1810 770 M1860 750 L2010 695"/>
<path d="M1290 550 Q1370 490 1455 462"/>
<!-- badge -->
<ellipse cx="660" cy="118" rx="42" ry="72" transform="rotate(42 660 118)"/>
<ellipse cx="660" cy="118" rx="33" ry="62" transform="rotate(42 660 118)"/>
<path d="M615 130 L690 118 M650 125 L680 75 M655 100 L690 90 M660 90 L665 70" stroke-width="4"/>
<path d="M90 95 L110 40"/>
</g>
<g transform="translate(280,1060) scale(0.17765)" class="c" stroke-width="6.5">
<path d="M660 520 Q670 470 715 465 Q750 470 745 510 M680 520 L700 500 Q715 480 735 495 L730 520 M660 520 L690 510 L720 530 L760 520"/>
<path d="M665 580 L710 560 L720 590 L760 545 L795 590 L800 610 L770 625 M710 560 L700 530 M760 545 L750 520"/>
<path d="M670 600 Q680 690 715 720 M725 590 L735 700 M790 640 Q790 700 760 725 M735 600 Q750 650 745 720 M690 610 Q700 680 725 715"/>
<path d="M690 722 L780 745 M688 735 L778 758 M686 748 L776 770 M700 718 L698 760 M715 722 L713 764 M730 726 L728 768 M745 730 L743 772 M760 734 L758 775" stroke-width="6.5"/>
<path d="M720 780 L725 830 L850 790 L845 760 M735 800 L850 760 M800 620 L840 605 M850 640 Q870 720 850 790 M770 625 L775 740"/>
</g></g>

<!-- C12: zoom of [690,620] -->
<g clip-path="url(#k12)">
<g transform="translate(690,620) scale(0.2002)" class="c" stroke-width="6">
<path d="M730 445 Q1200 230 1950 212 L2048 218"/>
<path d="M0 935 L730 445 Q760 432 830 435 L1700 530 Q1900 555 2048 590"/>
<path d="M0 985 L700 500 Q740 478 830 480 L1700 580 Q1880 600 1930 630 Q1960 660 1945 700 L1600 1300 Q1580 1330 1520 1325 L1340 1300"/>
<path d="M2048 715 L1680 1349 M2048 600 L2030 640 M2048 930 L1870 1349 M2048 1010 L1905 1349"/>
<path d="M2048 500 Q2000 520 1970 560"/>
<path d="M215 850 L222 1030 Q400 1100 540 1115 L720 1110 M820 1112 L835 1113 M905 1120 Q1100 1180 1340 1255"/>
<path d="M250 980 L550 895 M625 870 L890 790 M965 770 L1035 748 M1110 725 L1160 712"/>
<path d="M290 1025 L580 940 M655 915 L885 850 M960 830 L1070 795 M1150 775 L1220 750"/>
<path d="M485 740 Q650 1000 790 1140 Q845 1195 870 1130 Q900 980 935 740 Q950 640 990 650 Q1100 780 1330 1100"/>
<path d="M1340 620 L1070 1065 M1480 680 Q1620 900 1710 1120 M1820 705 L1690 990"/>
<path d="M1030 1140 Q1150 1050 1230 1020 M1300 995 Q1400 975 1500 1000 Q1650 1050 1700 1170"/>
<path d="M1040 1160 Q1200 1230 1340 1248 M1465 975 Q1530 940 1590 960 M1410 1190 Q1440 1260 1470 1290 M1490 1265 L1620 1255"/>
<path d="M0 900 Q40 780 110 755 Q150 755 150 810 M20 870 Q60 790 130 770"/>
<!-- cowl + wipers -->
<path d="M0 1055 Q400 1150 1150 1349"/>
<path d="M0 1165 Q300 1200 600 1270 L1050 1349"/>
<path d="M0 1085 L40 1090 L50 1150 L130 1180 M0 1100 L30 1105 L40 1160 L120 1190 M0 1120 L100 1150"/>
<path d="M195 1140 Q300 1125 480 1165 L540 1180 L520 1210 M200 1150 L470 1175 L510 1200 M210 1135 L350 1150 L480 1190"/>
<path d="M520 1210 L900 1300 L1000 1349 M530 1195 L920 1290 L1040 1349 M500 1225 L860 1320 L940 1349"/>
<path d="M350 1175 L440 1200 L500 1250 L580 1270 M400 1200 L450 1245" />
<path d="M195 1140 L200 1160 L330 1180"/>
<path d="M820 1349 L870 1330"/>
<!-- right mirror part -->
<path d="M1860 1349 Q1920 1200 1990 1120 L2010 1130 L2048 1290 M1985 1349 Q2010 1320 2048 1320 M1890 1349 Q1940 1230 1995 1140"/>
</g></g>

<!-- C13: zoom of [1100,620] -->
<g clip-path="url(#k13)">
<g transform="translate(1100,620) scale(0.2002)" class="c" stroke-width="6">
<path d="M0 218 L30 215 Q400 240 850 325 Q1100 400 1400 600 Q1500 650 1620 640 L1710 620"/>
<path d="M1255 510 L1770 625 Q1810 650 1815 700 L1860 850 Q1872 1000 1855 1349"/>
<path d="M1820 700 Q1830 850 1760 910"/>
<path d="M1535 700 Q1600 690 1680 760 Q1740 820 1730 860 Q1700 880 1650 830 Q1560 740 1535 700"/>
<path d="M0 480 Q200 330 700 310 Q850 315 930 350"/>
<path d="M70 590 Q300 380 800 370 Q1000 390 1230 520"/>
<path d="M0 880 Q150 600 280 530 Q500 440 800 450 Q1000 460 1070 540 Q1130 620 1135 740 Q1130 800 1060 840 L470 1185"/>
<path d="M0 940 Q160 630 300 560 Q500 470 800 478 Q980 485 1040 560 Q1100 640 1105 740 Q1100 790 1040 820 L440 1150"/>
<path d="M800 520 Q980 510 1040 580 Q1090 660 1050 780 L905 850 Z"/>
<path d="M545 490 Q640 700 705 960 M620 480 Q720 700 780 965 M690 470 Q790 700 850 940 M720 470 Q820 700 870 925"/>
<path d="M915 575 Q1000 630 1010 755"/>
<path d="M520 625 Q450 660 380 740 L95 1060 M520 625 Q530 700 460 960 Q460 985 490 970 Q560 920 640 885 M280 690 L285 800"/>
<path d="M390 1120 L700 965 L780 965 M470 1185 L870 960 L1100 820"/>
<path d="M845 940 Q1000 1000 1080 1120 Q1120 1200 1100 1349"/>
<path d="M510 1250 L1165 1005 M1230 975 Q1450 890 1660 875"/>
<path d="M1165 850 Q1350 720 1530 690 Q1650 670 1770 635 M1130 845 L1360 650 Q1370 630 1290 570"/>
<path d="M1480 1130 Q1600 960 1750 970 Q1850 1000 1862 1100"/>
<path d="M1370 1349 Q1420 1200 1440 1190 M1400 1349 Q1500 1100 1640 1070 Q1780 1090 1820 1349"/>
<path d="M1450 1349 Q1530 1190 1620 1180 Q1720 1200 1760 1349 M1560 1135 Q1680 1180 1720 1300"/>
<path d="M1170 1245 Q1300 1210 1420 1240"/>
<ellipse cx="940" cy="1240" rx="100" ry="48" transform="rotate(-20 940 1240)"/>
<path d="M860 1265 Q940 1200 1020 1195 M865 1285 L1020 1215 M880 1300 L1010 1240"/>
<path d="M60 1300 Q100 1150 200 1095 Q250 1080 300 1095 L430 1150 Q470 1180 470 1250 Q460 1310 400 1340 L380 1349"/>
<path d="M60 1300 Q200 1310 340 1290 M380 1280 Q440 1270 465 1240 M0 1310 L55 1295 L75 1349"/>
<path d="M205 220 Q240 195 290 210 L325 235 M270 205 L290 160 Q305 150 308 165 L300 212"/>
<path d="M0 520 Q40 560 30 640 L0 710 M75 585 L130 520 M85 720 L105 690 M100 875 L190 900 M280 905 Q340 900 380 870 M320 625 Q360 630 385 680 M395 640 L430 645 M555 670 L600 680 M420 1000 L430 1080 M475 1015 L480 1060"/>
<path d="M0 780 L40 720 M0 830 L50 760"/>
<path d="M1090 1280 L1110 1275 M1000 1349 L1060 1325"/>
</g></g>

<!-- C22: zoom of [690,890] -->
<g clip-path="url(#k22)">
<g transform="translate(690,890) scale(0.2002)" class="c" stroke-width="6">
<path d="M0 275 Q330 100 750 10"/>
<path d="M0 690 Q130 590 280 515 M345 475 Q650 330 1005 262 M1080 245 L1375 205"/>
<path d="M0 855 Q500 500 1000 320 Q1300 220 1450 185 Q1520 160 1555 70"/>
<path d="M555 890 Q850 680 1140 518 M1205 478 Q1500 310 1700 225 Q1750 200 1745 120"/>
<path d="M950 0 Q1200 50 1560 65 Q1640 50 1680 0"/>
<path d="M1050 0 L1130 25 L1160 0 M1130 25 L1220 35"/>
<path d="M1665 20 L1810 140 Q1810 400 1870 600 Q1890 850 1825 1175"/>
<path d="M1815 155 L2048 60 M1810 140 L1860 0 M1870 130 Q1850 100 1900 0 M1900 110 L2048 30 M1760 0 L1740 50 M1970 50 L2048 15"/>
<path d="M1755 615 L2048 470"/>
<path d="M1580 1349 L2048 1050 M1700 1349 L2048 1140 M1825 1175 Q1700 1250 1585 1349"/>
<path d="M805 820 Q1000 680 1200 660 Q1450 680 1530 900 Q1580 1100 1540 1290"/>
<path d="M460 1349 Q560 1000 980 820 Q1150 750 1300 800 Q1470 880 1480 1100 L1470 1349"/>
<path d="M540 1349 Q650 1050 750 875"/>
<path d="M980 820 L1140 875 Q1250 940 1290 1000"/>
<path d="M680 1349 Q800 950 1090 880 Q1250 900 1320 1100 Q1350 1250 1340 1349"/>
<path d="M640 1140 Q500 1200 310 1220"/>
<!-- headlight -->
<path d="M0 975 Q200 910 480 905 Q540 915 530 950 Q480 1060 300 1220 Q200 1290 0 1310"/>
<path d="M0 1000 Q200 945 410 955 M430 945 Q500 950 490 990 L290 1215 Q200 1265 90 1275 L410 960 M100 1268 L420 950"/>
<path d="M0 1050 L285 975 M60 1010 Q110 1100 165 1200 M120 1025 L285 975 M165 1200 L235 1110 M0 1260 Q60 1250 110 1230 M0 1285 L90 1275"/>
<ellipse cx="272" cy="1050" rx="40" ry="58" transform="rotate(-15 272 1050)"/>
<path d="M0 1090 L10 1150 M75 1020 Q130 1100 150 1200"/>
<!-- vents -->
<g transform="rotate(-30 1580 805)"><rect x="1520" y="777" width="120" height="56" rx="22"/><rect x="1535" y="788" width="90" height="34" rx="12"/><path d="M1585 790 Q1605 805 1590 822"/></g>
<g transform="rotate(-30 1690 737)"><rect x="1630" y="709" width="120" height="56" rx="22"/><rect x="1645" y="720" width="90" height="34" rx="12"/><path d="M1695 722 Q1715 737 1700 754"/></g>
<g transform="rotate(-30 1798 675)"><rect x="1738" y="647" width="120" height="56" rx="22"/><rect x="1753" y="658" width="90" height="34" rx="12"/><path d="M1803 660 Q1823 675 1808 692"/></g>
<ellipse cx="1715" cy="860" rx="22" ry="33" transform="rotate(20 1715 860)"/>
</g></g>

<!-- C23: zoom of [1100,890] -->
<g clip-path="url(#k23)">
<g transform="translate(1100,890) scale(0.2002)" class="c" stroke-width="6">
<path d="M0 470 L330 300 M395 270 L945 5"/>
<path d="M1100 0 Q1050 250 930 470 Q870 600 700 700 L0 1055"/>
<path d="M0 1140 L560 860 Q900 700 1200 605 L1270 580"/>
<path d="M560 865 Q900 730 1130 670 L1260 625 L1270 580 M1200 605 L1195 645"/>
<path d="M1130 670 Q1300 730 1470 732"/>
<path d="M1370 0 Q1270 300 1200 640 M1430 0 Q1310 300 1270 580"/>
<path d="M1440 0 Q1330 300 1370 550 Q1400 720 1480 732 Q1600 700 1700 450 Q1780 200 1800 0"/>
<ellipse cx="1575" cy="290" rx="165" ry="350" transform="rotate(12 1575 290)"/>
<path d="M1850 0 Q1820 150 1760 280"/>
<path d="M1650 244 Q1624 265 1622 280 Q1620 295 1643 306 Q1666 316 1686 333 Q1706 350 1718 304 Q1730 257 1728 214 Q1727 170 1702 197 Q1677 223 1650 244 Z M1716 207 L1660 248 Q1642 276 1652 294 M1679 356 Q1654 356 1668 389 Q1682 422 1693 389 Q1704 356 1679 356 Z M1621 372 Q1603 348 1596 359 Q1589 369 1592 416 Q1596 462 1596 510 Q1596 559 1619 537 Q1643 514 1661 473 Q1678 432 1659 414 Q1639 397 1621 372 Z M1659 446 L1622 392 Q1604 387 1600 419 M1584 521 Q1575 480 1566 532 Q1558 584 1575 573 Q1593 561 1584 521 Z M1557 439 Q1561 387 1554 385 Q1547 384 1529 431 Q1510 478 1490 522 Q1470 565 1488 584 Q1505 602 1529 594 Q1552 587 1552 538 Q1553 490 1557 439 Z M1539 568 L1549 459 Q1545 425 1530 447 M1482 511 Q1496 460 1471 493 Q1446 525 1457 544 Q1468 562 1482 511 Z M1506 393 Q1529 353 1528 340 Q1526 327 1500 340 Q1473 353 1448 358 Q1423 364 1422 409 Q1420 455 1431 487 Q1443 518 1463 475 Q1484 432 1506 393 Z M1446 481 L1495 399 Q1508 361 1493 356 M1450 335 Q1476 312 1454 301 Q1431 289 1427 323 Q1424 358 1450 335 Z M1508 270 Q1532 272 1537 257 Q1542 243 1528 211 Q1513 180 1502 144 Q1491 107 1471 145 Q1451 184 1442 231 Q1433 278 1458 273 Q1483 268 1508 270 Z M1450 250 L1502 257 Q1522 244 1519 216 M1512 125 Q1531 148 1528 101 Q1525 53 1509 78 Q1493 103 1512 125 Z M1560 162 Q1568 204 1575 199 Q1583 194 1591 142 Q1599 90 1611 39 Q1622 -12 1599 -10 Q1576 -8 1553 19 Q1530 47 1541 83 Q1552 120 1560 162 Z M1548 49 L1563 140 Q1575 161 1586 131 M1622 39 Q1619 90 1638 43 Q1656 -4 1640 -8 Q1625 -12 1622 39 Z M1623 150 Q1608 201 1613 209 Q1618 217 1643 184 Q1667 151 1692 124 Q1717 97 1709 61 Q1700 25 1680 12 Q1661 -1 1649 49 Q1638 100 1623 150 Z M1666 30 L1633 136 Q1629 175 1645 166 M1696 142 Q1674 183 1700 172 Q1726 160 1722 131 Q1718 101 1696 142 Z"/>
<ellipse cx="1607" cy="285" rx="8" ry="16" transform="rotate(12 1607 285)"/>
<ellipse cx="1609" cy="285" rx="5" ry="12" transform="rotate(12 1609 285)"/>
<ellipse cx="1577" cy="350" rx="8" ry="16" transform="rotate(12 1577 350)"/>
<ellipse cx="1579" cy="350" rx="5" ry="12" transform="rotate(12 1579 350)"/>
<ellipse cx="1544" cy="332" rx="8" ry="16" transform="rotate(12 1544 332)"/>
<ellipse cx="1546" cy="332" rx="5" ry="12" transform="rotate(12 1546 332)"/>
<ellipse cx="1554" cy="256" rx="8" ry="16" transform="rotate(12 1554 256)"/>
<ellipse cx="1556" cy="256" rx="5" ry="12" transform="rotate(12 1556 256)"/>
<ellipse cx="1593" cy="227" rx="8" ry="16" transform="rotate(12 1593 227)"/>
<ellipse cx="1595" cy="227" rx="5" ry="12" transform="rotate(12 1595 227)"/>
<ellipse cx="1575" cy="290" rx="13" ry="28" transform="rotate(12 1575 290)"/>
<ellipse cx="1578" cy="290" rx="9" ry="21" transform="rotate(12 1578 290)"/>
<path d="M0 45 Q100 10 330 0 M0 60 L40 45"/>
<ellipse cx="1003" cy="20" rx="8" ry="14" transform="rotate(15 1003 20)"/>
</g></g>

<!-- C32: zoom of [690,1081] -->
<clipPath id="k32b"><rect x="690" y="1081" width="410" height="220.5"/></clipPath>
<g clip-path="url(#k32b)">
<g transform="translate(690,1081) scale(0.2002)" class="c" stroke-width="6">
<ellipse cx="1025" cy="552" rx="287" ry="500" transform="rotate(11 1025 552)"/>
<path d="M1158 455 Q1113 496 1113 519 Q1113 541 1159 547 Q1205 554 1247 570 Q1290 587 1302 515 Q1313 443 1301 380 Q1288 318 1246 366 Q1204 415 1158 455 Z M1275 375 L1178 457 Q1150 505 1173 528 M1241 606 Q1193 616 1227 658 Q1262 700 1275 647 Q1288 595 1241 606 Z M1132 652 Q1092 624 1081 643 Q1070 661 1088 727 Q1106 792 1117 862 Q1128 932 1168 890 Q1208 849 1232 782 Q1257 715 1214 698 Q1172 680 1132 652 Z M1223 743 L1140 680 Q1104 680 1104 729 M1097 881 Q1070 826 1066 905 Q1061 984 1092 960 Q1123 937 1097 881 Z M1025 774 Q1020 698 1007 698 Q993 698 969 774 Q946 850 917 920 Q889 991 927 1011 Q965 1031 1008 1010 Q1051 989 1040 919 Q1030 849 1025 774 Z M1022 968 L1015 806 Q999 759 975 797 M899 909 Q913 830 873 886 Q833 943 859 966 Q884 988 899 909 Z M918 728 Q952 662 946 644 Q940 626 893 655 Q845 683 799 701 Q752 720 759 786 Q767 853 796 893 Q826 934 855 864 Q884 794 918 728 Z M823 879 L898 741 Q913 682 884 681 M796 668 Q841 624 795 616 Q750 608 750 660 Q751 711 796 668 Z M892 550 Q939 543 945 520 Q951 498 916 458 Q880 418 851 370 Q821 322 792 385 Q763 448 757 520 Q751 591 797 574 Q844 557 892 550 Z M776 544 L877 534 Q912 507 899 467 M866 339 Q907 364 890 297 Q874 230 849 272 Q824 315 866 339 Z M966 373 Q991 431 1004 420 Q1018 410 1021 332 Q1024 253 1034 175 Q1043 98 1000 110 Q957 122 919 170 Q882 219 911 267 Q941 316 966 373 Z M916 215 L967 340 Q995 366 1009 318 M1055 171 Q1062 246 1087 170 Q1112 95 1080 96 Q1049 97 1055 171 Z M1084 331 Q1068 410 1079 420 Q1090 430 1129 372 Q1169 314 1210 265 Q1252 215 1227 167 Q1202 119 1161 108 Q1121 97 1111 175 Q1101 252 1084 331 Z M1138 140 L1101 306 Q1101 365 1131 345 M1222 290 Q1189 358 1237 331 Q1284 304 1270 263 Q1255 222 1222 290 Z"/>
<ellipse cx="1084" cy="532" rx="14" ry="25" transform="rotate(11 1084 532)"/>
<ellipse cx="1086" cy="532" rx="9" ry="18" transform="rotate(11 1086 532)"/>
<ellipse cx="1043" cy="638" rx="14" ry="25" transform="rotate(11 1043 638)"/>
<ellipse cx="1045" cy="638" rx="9" ry="18" transform="rotate(11 1045 638)"/>
<ellipse cx="976" cy="625" rx="14" ry="25" transform="rotate(11 976 625)"/>
<ellipse cx="978" cy="625" rx="9" ry="18" transform="rotate(11 978 625)"/>
<ellipse cx="977" cy="511" rx="14" ry="25" transform="rotate(11 977 511)"/>
<ellipse cx="979" cy="511" rx="9" ry="18" transform="rotate(11 979 511)"/>
<ellipse cx="1044" cy="454" rx="14" ry="25" transform="rotate(11 1044 454)"/>
<ellipse cx="1046" cy="454" rx="9" ry="18" transform="rotate(11 1046 454)"/>
<ellipse cx="1025" cy="552" rx="24" ry="42" transform="rotate(11 1025 552)"/>
<ellipse cx="1028" cy="552" rx="17" ry="32" transform="rotate(11 1028 552)"/>
</g></g>
<g clip-path="url(#k32)">
<g transform="translate(690,1081) scale(0.2002)" class="c" stroke-width="6">
<path d="M680 395 Q645 500 638 600 Q600 900 730 1100 M1340 395 Q1345 500 1335 600 Q1250 930 1030 1100"/>
<path d="M540 395 Q465 560 445 750 L435 1075 M460 395 Q385 600 370 800 L355 1090 L430 1065 L435 1100 M440 1045 L580 1100"/>
<path d="M1480 350 Q1460 500 1410 590 L1330 605 M1535 340 L1490 530"/>
<path d="M1520 440 L1700 325 M1480 560 Q1440 595 1390 600 M1480 560 L1760 375"/>
<path d="M0 590 Q60 570 100 630 Q130 700 100 750 M50 600 Q40 680 110 700 M0 800 Q50 790 90 760 M20 610 Q5 680 60 720"/>
<path d="M0 920 Q40 910 80 920 Q90 940 60 1000 L0 1070"/>
</g></g>

<!-- sensors on car -->
<!-- A-pillar sensor: C12 coords -->
<g transform="translate(690,620) scale(0.2002)">
<path d="M1342 1162 L1345 1090 Q1350 1045 1378 1042 Q1400 1045 1405 1085 L1415 1140 L1420 1165 Z" fill="#fff" stroke="none"/>
<g class="k" stroke-width="9">
<path d="M1342 1162 L1345 1090 Q1350 1045 1378 1042 Q1400 1045 1405 1085 L1415 1140 L1420 1165 L1342 1165 Z"/>
<path d="M1355 1170 L1358 1205 L1402 1200 L1405 1168"/>
<path d="M1370 1208 Q1375 1260 1350 1330 M1392 1205 Q1398 1265 1372 1335"/>
</g>
<g class="k" stroke-width="4.5">
<path d="M1345 1120 L1410 1105 M1360 1150 L1415 1140 L1400 1125 Z M1378 1042 L1372 1085"/>
<ellipse cx="1385" cy="1075" rx="6" ry="10"/>
<path d="M1330 1325 L1355 1322 Q1365 1335 1385 1330"/>
</g>
</g>
<!-- door sensor: C23 coords -->
<g transform="translate(1100,890) scale(0.2002)">
<path d="M905 292 L905 215 Q910 175 940 172 Q960 175 968 215 L975 270 L980 295 Z" fill="#fff" stroke="none"/>
<g class="k" stroke-width="9">
<path d="M905 292 L905 215 Q910 175 940 172 Q960 175 968 215 L975 270 L980 295 L905 295 Z"/>
<path d="M915 300 L918 335 L965 330 L968 298"/>
<path d="M930 338 Q935 390 905 455 M955 335 Q958 395 930 460"/>
</g>
<g class="k" stroke-width="4.5">
<path d="M905 250 L970 235 M920 285 L975 272 L960 258 Z M940 172 L934 215"/>
<ellipse cx="946" cy="205" rx="6" ry="10"/>
<path d="M880 455 L910 450 Q925 465 938 462"/>
</g>
</g>
<!-- hood left sensor: zoom 22.51 of [340,1010] -->
<g transform="translate(340,1010) scale(0.044425)">
<path d="M430 390 L520 335 L560 345 L640 350 L810 460 L820 510 L920 580 L925 640 L845 700 L800 750 L700 690 L640 720 L480 620 L425 540 Z" fill="#fff" stroke="none"/>
<g class="k" stroke-width="34">
<path d="M430 390 L520 335 L560 345 L470 400 Z"/>
<path d="M430 390 L425 540 L480 620 L640 720 L700 690"/>
<path d="M560 345 L640 350 L810 460 L820 510 L920 580 L925 640 L880 650"/>
<path d="M470 400 L480 620 M700 690 L800 750 L845 725 L845 700"/>
<path d="M880 640 Q1020 700 1025 820 Q1020 900 985 1000 M845 700 Q960 740 965 840 Q960 900 950 960"/>
</g>
<g class="k" stroke-width="16">
<path d="M520 440 L690 555 L690 700 M690 555 L760 500 L810 460 M700 560 L830 640 L845 700 M830 640 L880 600"/>
<path d="M870 885 L930 892"/>
</g>
</g>
<!-- hood right sensor: zoom 30.02 of [540,1075] -->
<g transform="translate(540,1075) scale(0.033311)">
<path d="M770 530 L860 460 L1010 575 L1120 490 L1330 610 L1340 900 L1290 960 L1240 990 L1180 960 L1120 1030 L910 900 L910 850 L760 750 Z" fill="#fff" stroke="none"/>
<g class="k" stroke-width="46">
<path d="M770 530 Q560 440 340 740 M760 590 Q560 560 410 800"/>
<path d="M770 530 L860 460 L1010 575 L925 670 L775 575 Z"/>
<path d="M770 530 L760 750 L910 850 L925 670"/>
<path d="M1010 575 L1120 490 L1330 610 L1340 900 L1290 960 L1240 990 L1180 960 L1120 1030 L910 900 L910 850"/>
<path d="M1230 700 L1330 890 M1180 960 L1190 800 L1230 700 L1330 640"/>
</g>
<g class="k" stroke-width="20">
<path d="M925 670 L1150 790 L1125 1025 M1150 790 L1230 700 M960 650 L1170 760"/>
<path d="M230 745 L330 735 Q400 830 490 825"/>
</g>
</g>

</svg>
</body></html>
